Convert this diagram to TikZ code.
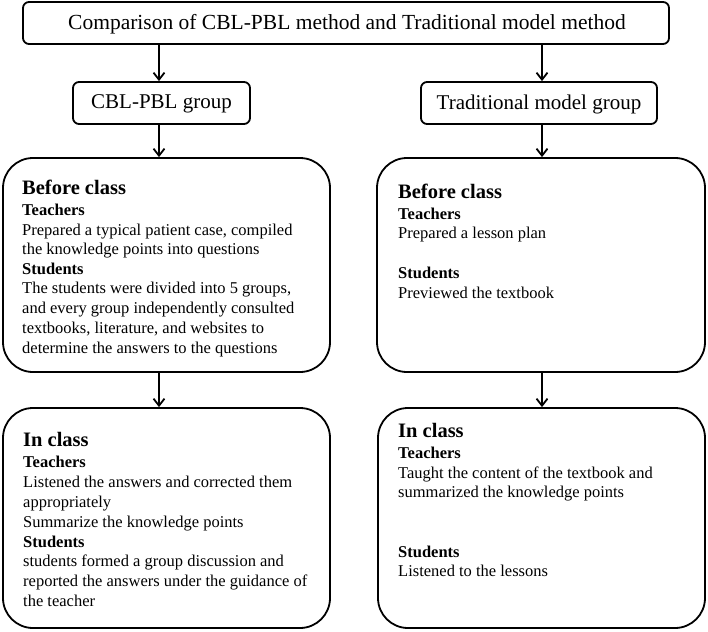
\documentclass[tikz,border=0pt]{standalone}
\usepackage{fontspec}
\setmainfont{Liberation Serif}
\usetikzlibrary{arrows.meta}
\tikzset{
  smallbox/.style={draw=black, line width=1.8pt, rounded corners=6pt, inner sep=0pt},
  bigbox/.style={draw=black, line width=1.8pt, rounded corners=30pt, inner sep=0pt},
  arr/.style={line width=1.8pt, -{Straight Barb[length=7pt,width=11pt,line width=1.8pt]}},
  ttl/.style={inner sep=0pt, font=\fontsize{21.5}{24}\selectfont},
  grp/.style={inner sep=0pt, font=\fontsize{21}{24}\selectfont},
  head/.style={inner sep=0pt, anchor=base west, font=\fontsize{20.5}{24}\selectfont\bfseries},
  sub/.style={inner sep=0pt, anchor=base west, font=\fontsize{16.5}{19.7}\selectfont\bfseries},
  body/.style={inner sep=0pt, anchor=base west, font=\fontsize{16.5}{19.7}\selectfont}
}
\begin{document}
\begin{tikzpicture}[x=1pt,y=-1pt]
\useasboundingbox (0,0) rectangle (708,631);
% boxes
\node[smallbox, minimum width=646pt, minimum height=42pt] (top) at (346,23) {};
\node[ttl] (toptxt) at (347,24) {Comparison of CBL-PBL method and Traditional model method};
\node[smallbox, minimum width=177pt, minimum height=42pt] (cbl) at (161.5,103) {};
\node[grp] (cbltxt) at (161.5,104) {CBL-PBL group};
\node[smallbox, minimum width=236pt, minimum height=42pt] (trad) at (539,103) {};
\node[grp] (tradtxt) at (539,104) {Traditional model group};
\node[bigbox, minimum width=327pt, minimum height=214pt] (lb) at (166.5,265) {};
\node[bigbox, minimum width=328pt, minimum height=214pt] (rb) at (541,265) {};
\node[bigbox, minimum width=327pt, minimum height=220pt] (li) at (166.5,518) {};
\node[bigbox, minimum width=327pt, minimum height=220pt] (ri) at (541.5,518) {};
% arrow columns
\coordinate (lx) at (159,0);
\coordinate (rx) at (542,0);
\draw[arr] (top.south -| lx) -- (cbl.north -| lx);
\draw[arr] (top.south -| rx) -- (trad.north -| rx);
\draw[arr] (cbl.south -| lx) -- (lb.north -| lx);
\draw[arr] (trad.south -| rx) -- (rb.north -| rx);
\draw[arr] (lb.south -| lx) -- (li.north -| lx);
\draw[arr] (rb.south -| rx) -- (ri.north -| rx);
% left before class
\node[head] (lb1) at (22,194) {Before class};
\node[sub]  (lb2) at (22,215) {Teachers};
\node[body] (lb3) at (22,235) {Prepared a typical patient case, compiled};
\node[body] (lb4) at (22,254) {the knowledge points into questions};
\node[sub]  (lb5) at (22,274) {Students};
\node[body] (lb6) at (22,293) {The students were divided into 5 groups,};
\node[body] (lb7) at (22,313) {and every group independently consulted};
\node[body] (lb8) at (22,333) {textbooks, literature, and websites to};
\node[body] (lb9) at (22,353) {determine the answers to the questions};
% right before class
\node[head] (rb1) at (398,198) {Before class};
\node[sub]  (rb2) at (398,219) {Teachers};
\node[body] (rb3) at (398,238) {Prepared a lesson plan};
\node[sub]  (rb4) at (398,278) {Students};
\node[body] (rb5) at (398,298) {Previewed the textbook};
% left in class
\node[head] (li1) at (23,446) {In class};
\node[sub]  (li2) at (23,467) {Teachers};
\node[body] (li3) at (23,487) {Listened the answers and corrected them};
\node[body] (li4) at (23,507) {appropriately};
\node[body] (li5) at (23,527) {Summarize the knowledge points};
\node[sub]  (li6) at (23,547) {Students};
\node[body] (li7) at (23,566) {students formed a group discussion and};
\node[body] (li8) at (23,586) {reported the answers under the guidance of};
\node[body] (li9) at (23,606) {the teacher};
% right in class
\node[head] (ri1) at (398,437) {In class};
\node[sub]  (ri2) at (398,458) {Teachers};
\node[body] (ri3) at (398,478) {Taught the content of the textbook and};
\node[body] (ri4) at (398,497) {summarized the knowledge points};
\node[sub]  (ri5) at (398,557) {Students};
\node[body] (ri6) at (398,576) {Listened to the lessons};
\end{tikzpicture}
\end{document}
